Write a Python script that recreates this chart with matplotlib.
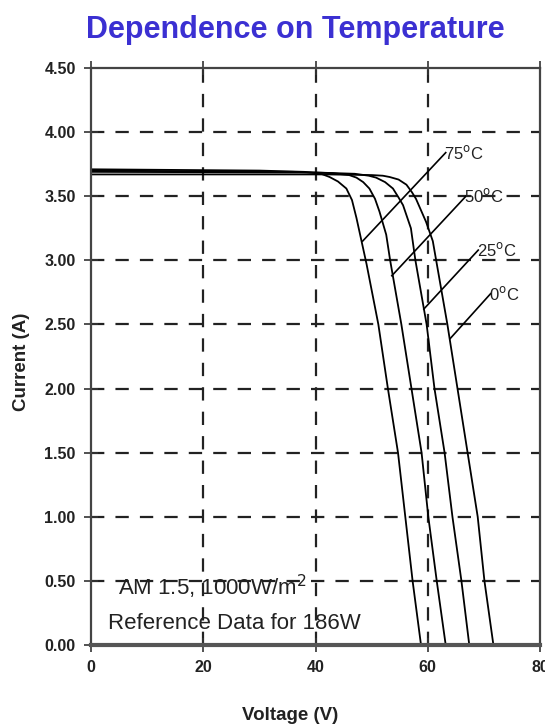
import matplotlib
matplotlib.use("Agg")
import matplotlib.pyplot as plt

FONT = ['Liberation Sans', 'DejaVu Sans']

# ---- data ----
v75 = [0, 30, 38, 41, 42.5, 44, 45.5, 46.5, 47.3, 48.2, 49.1, 51.2, 52.9, 54.7, 56.0, 57.3, 58.8]
i75 = [3.71, 3.70, 3.69, 3.675, 3.65, 3.615, 3.56, 3.47, 3.33, 3.15, 2.97, 2.50, 2.00, 1.50, 1.00, 0.50, 0.00]
v50 = [0, 36, 43, 46, 47.3, 48.5, 49.6, 50.6, 51.4, 52.6, 53.3, 55.3, 57.1, 58.9, 60.1, 61.6, 63.2]
i50 = [3.70, 3.69, 3.68, 3.665, 3.645, 3.61, 3.56, 3.48, 3.38, 3.20, 3.00, 2.50, 2.00, 1.50, 1.00, 0.50, 0.00]
v25 = [0, 40, 47, 49.5, 50.8, 52.4, 53.8, 54.8, 55.6, 57.0, 57.8, 59.8, 61.2, 63.0, 64.4, 66.0, 67.4]
i25 = [3.69, 3.685, 3.675, 3.66, 3.645, 3.61, 3.56, 3.49, 3.43, 3.25, 3.00, 2.50, 2.00, 1.50, 1.00, 0.50, 0.00]
v0 = [0, 42, 50, 52, 53.2, 54.8, 56.2, 57.2, 57.9, 59.7, 60.9, 61.5, 63.5, 65.3, 67.1, 68.9, 70.1, 71.7]
i0 = [3.67, 3.67, 3.665, 3.66, 3.65, 3.63, 3.59, 3.53, 3.48, 3.30, 3.15, 3.00, 2.50, 2.00, 1.50, 1.00, 0.50, 0.00]

labels = ["75$^{\\mathrm{o}}$C", "50$^{\\mathrm{o}}$C", "25$^{\\mathrm{o}}$C", "0$^{\\mathrm{o}}$C"]
label_pos = [(63.2, 3.84), (66.8, 3.50), (69.0, 3.08), (71.2, 2.74)]
leader_start = [(48.4, 3.15), (53.6, 2.88), (59.3, 2.62), (64.0, 2.39)]

xticks = [0, 20, 40, 60, 80]
yticks = [0.0, 0.5, 1.0, 1.5, 2.0, 2.5, 3.0, 3.5, 4.0, 4.5]

fig = plt.figure(figsize=(5.45, 7.28), dpi=100)
ax = fig.add_axes([91/545, 1 - 645/728, (540 - 91)/545, (645 - 68)/728])

for v, i in [(v75, i75), (v50, i50), (v25, i25), (v0, i0)]:
    ax.plot(v, i, color='black', lw=1.3, solid_joinstyle='round', solid_capstyle='round')

for lab, (tx, ty), (sx, sy) in zip(labels, label_pos, leader_start):
    ax.plot([sx, tx], [sy, ty], color='black', lw=1.2)
    ax.text(tx - 0.3, ty, lab, fontsize=12, family=FONT,
            ha='left', va='center', color='#222')

ax.set_xlim(0, 80)
ax.set_ylim(0, 4.5)
ax.set_xticks(xticks)
ax.set_yticks(yticks)
ax.set_xticklabels([str(x) for x in xticks])
ax.set_yticklabels([f"{y:.2f}" for y in yticks])

for y in yticks[1:-1]:
    ax.axhline(y, color='#222', lw=1.6, dashes=(6, 5), zorder=0)
for x in xticks[1:-1]:
    ax.axvline(x, color='#222', lw=1.6, dashes=(6, 5), zorder=0)

ax.tick_params(direction='inout', length=10, width=1.2, colors='#333',
               top=True, labelsize=11.5, pad=6)
for lab in ax.get_xticklabels() + ax.get_yticklabels():
    lab.set_family(FONT)
    lab.set_fontweight('bold')
    lab.set_color('#222')

for s in ['left', 'top', 'right']:
    ax.spines[s].set_linewidth(1.6)
    ax.spines[s].set_color('#444')
ax.spines['bottom'].set_linewidth(3)
ax.spines['bottom'].set_color('#555')

ax.text(4.8, 0.45, "AM 1.5, 1000W/m$^2$", fontsize=16, family=FONT,
        color='#222', ha='left', va='center')
ax.text(3.0, 0.17, "Reference Data for 186W", fontsize=16, family=FONT,
        color='#222', ha='left', va='center')

fig.text(290/545, 1 - 716/728, "Voltage (V)", fontsize=13.5, fontweight='bold', family=FONT,
         color='#222', ha='center', va='center')
fig.text(22/545, 1 - 362/728, "Current (A)", fontsize=13.5, fontweight='bold', family=FONT,
         color='#222', ha='center', va='center', rotation=90)

fig.text(0.542, 1 - 30/728, "Dependence on Temperature", fontsize=22, fontweight='bold',
         family=FONT, color='#3b30d2', ha='center', va='center')

fig.savefig("out.png", dpi=100)
